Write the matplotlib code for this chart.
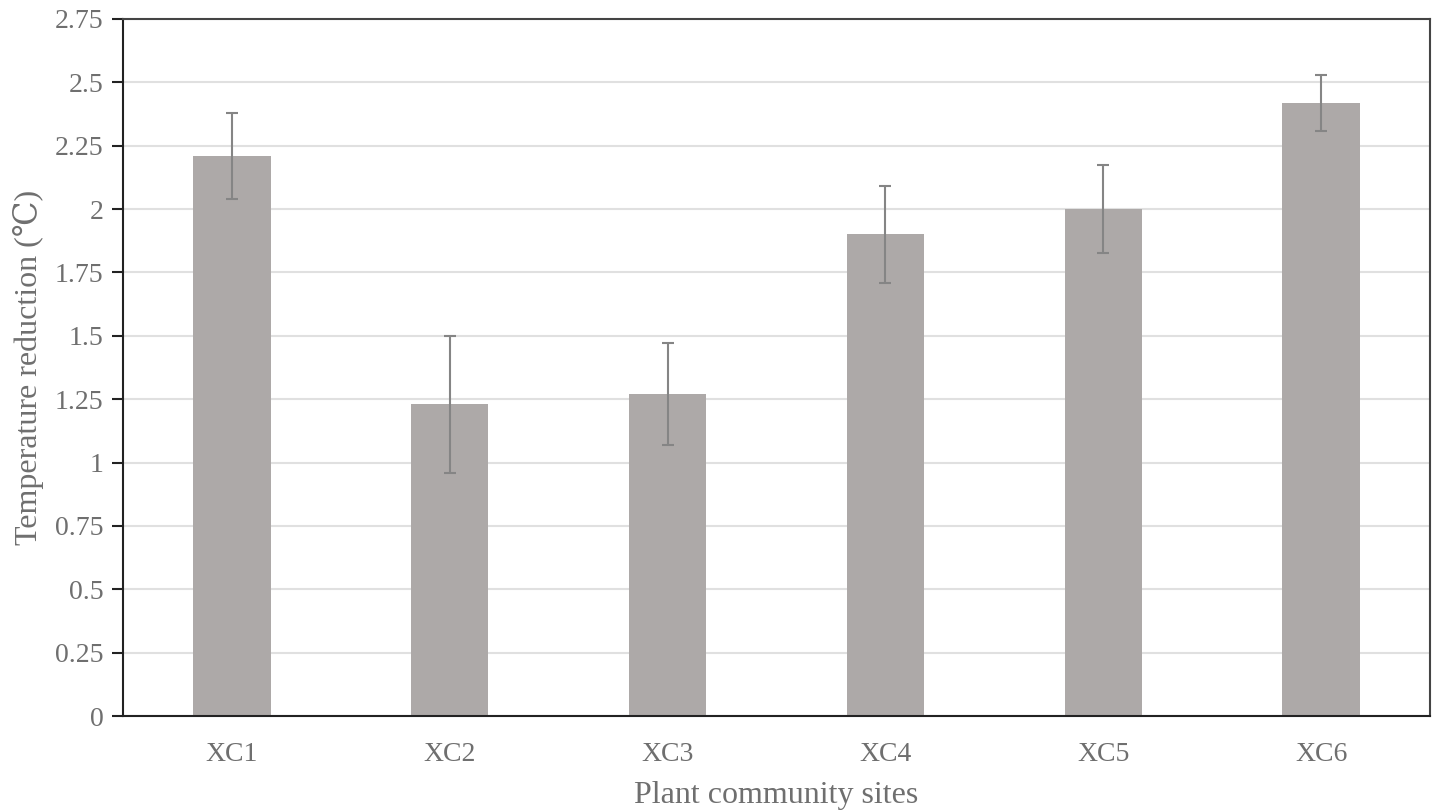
import matplotlib
matplotlib.use("Agg")
import matplotlib.pyplot as plt
import numpy as np

sites = ["XC1", "XC2", "XC3", "XC4", "XC5", "XC6"]
reduction = [2.21, 1.23, 1.27, 1.90, 2.00, 2.42]
errors = [0.17, 0.27, 0.20, 0.19, 0.175, 0.11]
yticks = [0, 0.25, 0.5, 0.75, 1, 1.25, 1.5, 1.75, 2, 2.25, 2.5, 2.75]
ytick_labels = ["0", "0.25", "0.5", "0.75", "1", "1.25", "1.5", "1.75", "2", "2.25", "2.5", "2.75"]

plt.rcParams['font.family'] = ['Liberation Serif', 'DejaVu Serif']
text_color = "#6f6f6f"

fig = plt.figure(figsize=(14.38, 8.11), dpi=100)
ax = fig.add_axes([123/1438, 95/811, 1307/1438, 697/811])

x = np.arange(len(sites))
ax.bar(x, reduction, width=0.355, color="#ada9a8", zorder=2)
ax.errorbar(x, reduction, yerr=errors, fmt="none", ecolor="#858585",
            elinewidth=1.5, capsize=4, capthick=1.5, zorder=3)

ax.set_xlim(-0.5, len(sites) - 0.5)
ax.set_ylim(0, 2.75)
ax.set_yticks(yticks)
ax.set_yticklabels(ytick_labels)
ax.set_xticks(x)
ax.set_xticklabels(sites)
ax.yaxis.grid(True, color="#e0e0e0", linewidth=1.5, zorder=0)
ax.set_axisbelow(True)

for side in ["left", "bottom"]:
    ax.spines[side].set_color("#222222")
    ax.spines[side].set_linewidth(1.5)
for side in ["top", "right"]:
    ax.spines[side].set_color("#444444")
    ax.spines[side].set_linewidth(1.5)

ax.tick_params(axis="y", length=8, width=1.5, color="#222222", labelsize=20,
               labelcolor=text_color, pad=6)
ax.tick_params(axis="x", length=0, labelsize=20, labelcolor=text_color, pad=19)

ax.set_xlabel("Plant community sites", fontsize=23, color=text_color, labelpad=10)
ax.set_ylabel("Temperature reduction (℃)", fontsize=23, color=text_color, labelpad=8)

fig.savefig("out.png", dpi=100)
